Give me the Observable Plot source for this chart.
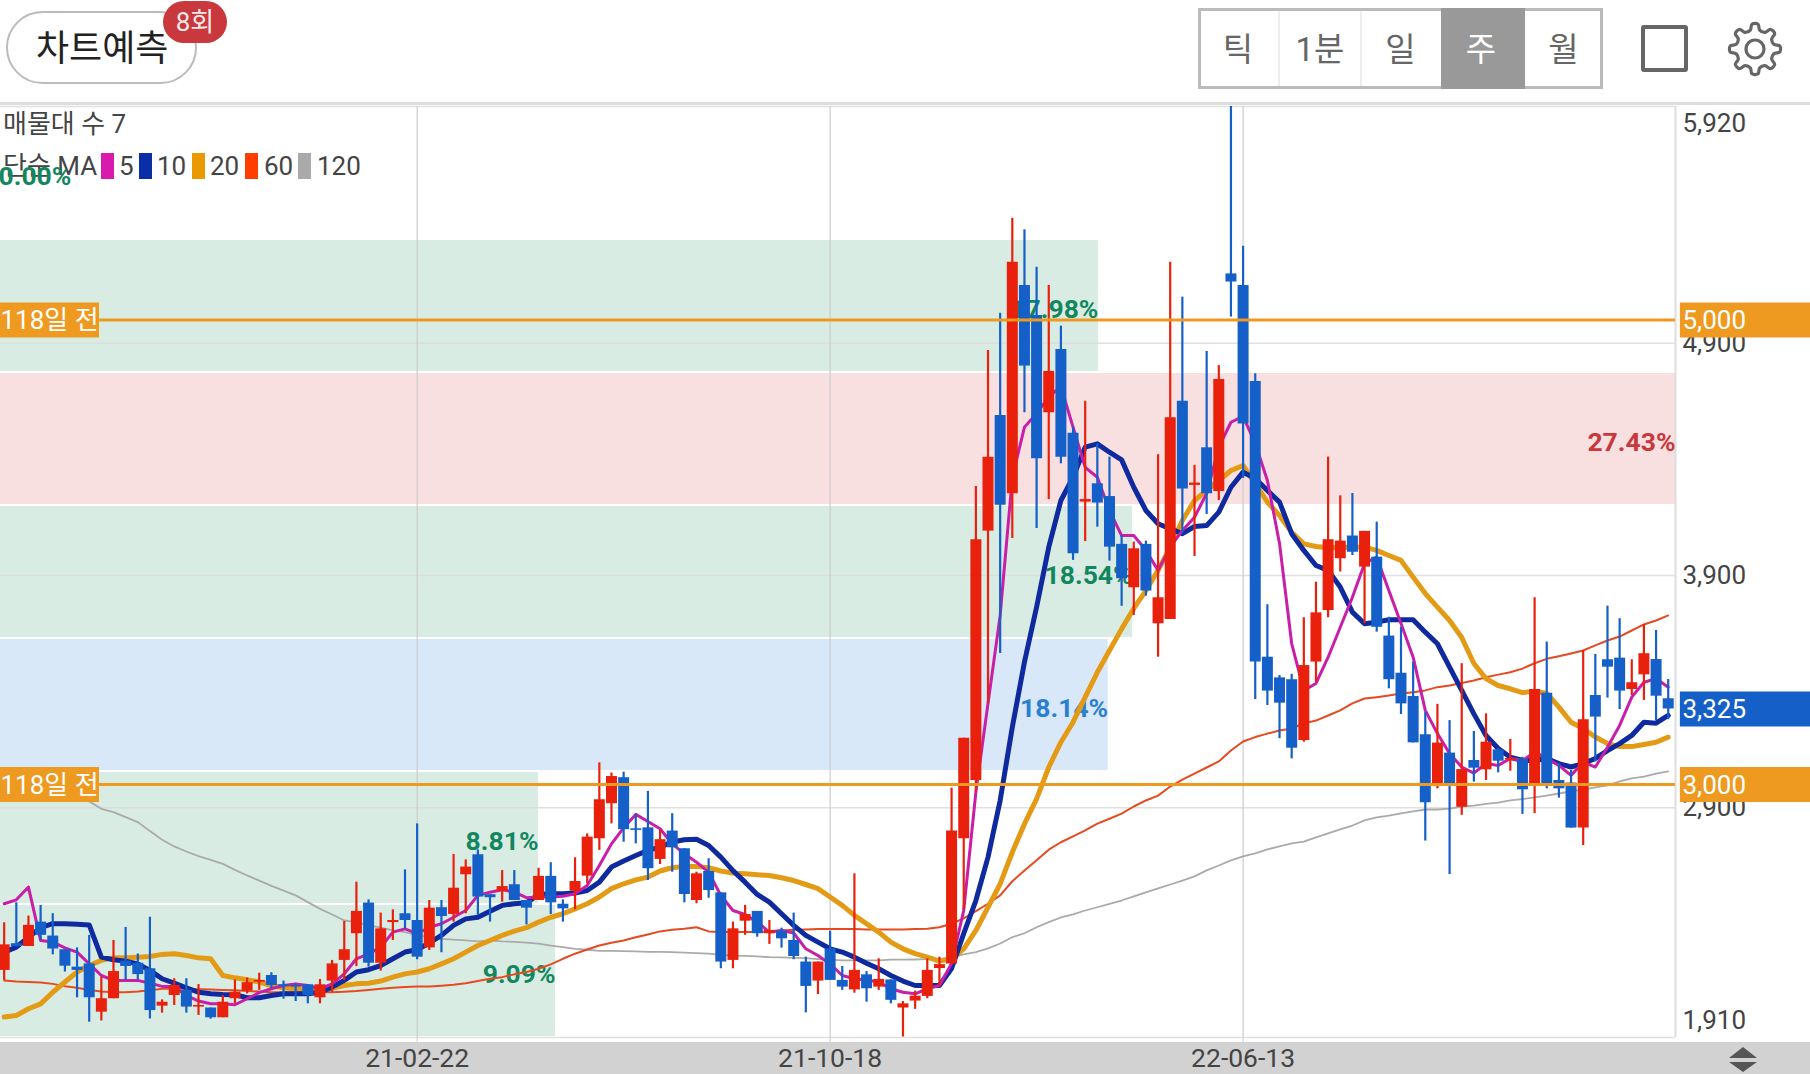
<!DOCTYPE html>
<html lang="ko">
<head>
<meta charset="utf-8">
<script src="https://cdn.jsdelivr.net/npm/d3@7"></script>
<script src="https://cdn.jsdelivr.net/npm/@observablehq/plot@0.6"></script>
<style>
html,body{margin:0;padding:0;background:#fff;overflow:hidden;width:1810px;height:1074px;font-family:Roboto,"Noto Sans CJK KR",sans-serif}
#page{position:relative;width:1810px;height:1074px;overflow:hidden}
.abs{position:absolute}
#hdr{position:relative;height:106px}
#chart{position:relative;z-index:2;line-height:0}
#chart svg{background:transparent;display:block}
.seg{position:absolute;top:8px;height:81px;line-height:83px;text-align:center;font-size:33px;color:#666}
.leg{position:absolute;top:149px;height:34px;line-height:34px;font-size:26px;color:#444}
.sw{position:absolute;top:153px;width:13px;height:26px}
</style>
</head>
<body>
<div id="page">
  <div class="abs" style="left:0;top:1042px;width:1810px;height:32px;background:#d2d2d2"></div>
  <svg class="abs" style="left:1725px;top:1045px;z-index:3" width="36" height="29">
    <path d="M18 2 L32 13 L4 13 Z M4 17 L32 17 L18 27 Z" fill="#555"/>
  </svg>
  <div id="hdr">
    <div class="abs" style="left:6px;top:11px;width:187px;height:69px;border:2.5px solid #bbb;border-radius:37px"></div>
    <div class="abs" style="left:36px;top:24px;font-size:36px;line-height:50px;color:#222">차트예측</div>
    <div class="abs" style="left:163px;top:1px;width:64px;height:42px;border-radius:21px;background:#c8383c;color:#fbe9e9;font-size:26px;line-height:43px;text-align:center">8회</div>
    <div class="abs" style="left:1198px;top:8px;width:399px;height:75px;border:3px solid #bbb"></div>
    <div class="abs" style="left:1278px;top:11px;width:2px;height:75px;background:#eee"></div>
    <div class="abs" style="left:1360px;top:11px;width:2px;height:75px;background:#eee"></div>
    <div class="abs" style="left:1441px;top:8px;width:84px;height:81px;background:#999"></div>
    <div class="seg" style="left:1198px;width:80px">틱</div>
    <div class="seg" style="left:1280px;width:80px">1분</div>
    <div class="seg" style="left:1361px;width:79px">일</div>
    <div class="seg" style="left:1439px;width:84px;color:#fff">주</div>
    <div class="seg" style="left:1525px;width:77px">월</div>
    <div class="abs" style="left:1641px;top:25px;width:39px;height:39px;border:4px solid #666;border-radius:3px"></div>
    <svg id="gear" class="abs" style="left:1723px;top:17px" width="64" height="64"></svg>
    <div class="abs" style="left:0;top:102px;width:1810px;height:3px;background:#ddd"></div>
  </div>
  <div class="abs" style="left:3px;top:107px;font-size:26px;line-height:34px;color:#444">매물대 수 7</div>
  <div class="leg" style="left:3px">단순 MA</div>
  <div class="sw" style="left:101px;background:#d81bad"></div><div class="leg" style="left:119px">5</div>
  <div class="sw" style="left:139px;background:#0a2ea8"></div><div class="leg" style="left:157px">10</div>
  <div class="sw" style="left:192px;background:#ea9a00"></div><div class="leg" style="left:210px">20</div>
  <div class="sw" style="left:245px;background:#ff3d00"></div><div class="leg" style="left:264px">60</div>
  <div class="sw" style="left:298px;background:#aaaaaa"></div><div class="leg" style="left:317px">120</div>
  <div id="chart"></div>
</div>
<script>
// weekly candles, newest on the right
const open = [2199,2314,2302,2407,2347,2288,2213,2227,2019,2077,
2239,2230,2206,2045,2091,2113,2041,2037,1995,2077,
2110,2148,2177,2137,2134,2137,2081,2153,2242,2357,
2489,2230,2405,2443,2414,2296,2469,2440,2611,2697,
2525,2540,2568,2500,2500,2604,2484,2540,2605,2766,
2917,3029,2809,2813,2677,2799,2723,2500,2625,2533,
2242,2411,2453,2357,2368,2328,2235,2153,2292,2156,
2115,2180,2127,2158,2037,2067,2087,2207,2227,2766,
3017,4091,4589,4252,5149,5020,4601,4873,4513,4216,
4295,4240,4034,3847,4034,3692,3710,4650,4288,4450,
4262,5199,5149,4736,3548,3459,3451,3189,3527,3749,
3972,4070,3936,3979,3639,3479,3379,3214,2991,3135,
2902,3103,3063,3149,3105,3107,2996,3393,3017,3006,
2812,3383,3537,3544,3409,3472,3538,3369];
const close = [2309,2302,2393,2350,2291,2217,2199,2081,2077,2194,
2216,2181,2026,2062,2134,2041,2048,1995,2062,2105,
2146,2156,2134,2130,2127,2091,2137,2227,2288,2453,
2230,2378,2414,2414,2256,2467,2431,2553,2644,2515,
2512,2560,2500,2467,2604,2490,2464,2582,2773,2934,
3034,2805,2802,2637,2762,2727,2526,2615,2543,2235,
2378,2440,2357,2371,2335,2259,2130,2235,2156,2127,
2199,2120,2160,2070,2055,2088,2199,2224,2799,3199,
4054,4409,4202,5249,4802,4403,4779,4409,3994,4227,
4212,4022,3886,4015,3833,3804,4579,4273,4298,4252,
4744,5164,4553,3527,3402,3350,3156,3512,3739,4054,
4048,4000,4090,3677,3451,3347,3179,2921,3178,3003,
3064,3070,3182,3100,3112,2977,3409,3003,2981,2812,
3279,3290,3505,3402,3438,3563,3380,3325];
const high = [2404,2490,2433,2479,2443,2288,2296,2350,2170,2328,
2384,2270,2428,2072,2163,2163,2138,2037,2091,2158,
2166,2187,2189,2153,2141,2137,2160,2242,2410,2579,
2503,2446,2460,2632,2830,2500,2500,2698,2675,2718,
2525,2629,2629,2500,2639,2663,2503,2684,2787,3093,
3049,3053,2871,2970,2802,2874,2723,2622,2680,2533,
2407,2479,2453,2414,2381,2446,2256,2235,2368,2216,
2615,2194,2249,2158,2065,2110,2249,2256,2984,3199,
4283,4869,5030,5439,5389,5228,5149,4974,4539,4650,
4467,4410,4072,4044,4048,4420,5249,5099,4374,4865,
4804,5920,5318,4769,3774,3469,3474,3718,3871,4410,
4243,4253,4090,4130,3720,3677,3527,3311,3345,3275,
3520,3228,3304,3155,3194,3117,3804,3613,3089,3060,
3577,3560,3768,3714,3537,3689,3663,3452];
const low = [2156,2300,2302,2328,2266,2192,2081,1976,1981,2077,
2156,2158,1990,2015,2048,2015,2005,1989,1995,2055,
2098,2113,2120,2075,2065,2055,2055,2105,2156,2216,
2213,2196,2328,2378,2245,2285,2275,2407,2443,2436,
2407,2493,2500,2395,2500,2440,2407,2460,2572,2716,
2830,2751,2744,2586,2655,2622,2490,2486,2510,2206,
2206,2350,2342,2311,2295,2245,2016,2095,2156,2113,
2101,2062,2113,2055,1912,2031,2077,2130,2227,2457,
2967,3349,3564,4059,4601,4102,4227,4381,3965,4046,
4108,3962,3767,3728,3811,3548,3710,4080,3982,4163,
4223,5013,4318,3366,3340,3197,3110,3182,3441,3718,
3915,3986,3692,3656,3412,3301,3179,2756,2981,2612,
2867,3010,3017,3050,3057,2871,2874,2981,2941,2812,
2737,3097,3372,3322,3383,3362,3275,3279];
const ma5 = [2486,2503,2558,2328,2321,2296,2278,2227,2177,2156,
2156,2156,2144,2130,2130,2091,2067,2055,2055,2051,
2077,2103,2120,2134,2141,2134,2120,2141,2184,2249,
2270,2299,2364,2378,2357,2385,2400,2428,2457,2522,
2536,2546,2536,2512,2515,2515,2518,2529,2565,2651,
2744,2813,2871,2840,2809,2744,2701,2665,2622,2522,
2457,2440,2407,2364,2371,2360,2292,2263,2227,2177,
2163,2158,2149,2120,2105,2098,2120,2134,2229,2457,
2967,3349,3728,4323,4539,4598,4668,4714,4539,4366,
4323,4180,4072,4072,4008,3922,4022,4094,4151,4253,
4453,4560,4585,4469,4309,4038,3607,3405,3435,3548,
3677,3806,3952,3979,3835,3693,3548,3319,3219,3133,
3075,3049,3090,3082,3112,3103,3139,3112,3082,3039,
3096,3075,3160,3254,3376,3440,3456,3419];
const ma10 = [2278,2299,2342,2383,2400,2400,2398,2395,2256,2245,
2239,2227,2199,2163,2144,2124,2105,2098,2095,2094,
2081,2081,2091,2098,2098,2098,2105,2127,2156,2192,
2202,2220,2249,2278,2288,2317,2350,2393,2421,2428,
2454,2479,2486,2490,2526,2529,2529,2532,2543,2579,
2644,2670,2694,2716,2730,2752,2762,2764,2737,2687,
2629,2579,2526,2493,2443,2393,2350,2321,2292,2278,
2256,2230,2206,2177,2153,2134,2134,2134,2207,2358,
2500,2687,2931,3247,3527,3764,4022,4223,4323,4453,
4467,4431,4398,4280,4180,4123,4101,4080,4111,4115,
4173,4280,4345,4318,4266,4216,4080,4008,3943,3922,
3850,3742,3692,3699,3709,3709,3709,3656,3606,3505,
3405,3304,3211,3155,3117,3103,3103,3112,3090,3075,
3090,3112,3146,3176,3211,3268,3264,3297];
const ma20 = [1998,2005,2034,2055,2105,2149,2192,2220,2242,2253,
2253,2256,2259,2268,2271,2263,2253,2249,2177,2167,
2159,2149,2134,2124,2120,2120,2115,2123,2134,2141,
2144,2153,2170,2184,2192,2206,2227,2249,2278,2306,
2328,2350,2368,2383,2407,2428,2443,2464,2486,2515,
2551,2572,2589,2601,2627,2641,2647,2647,2641,2627,
2618,2615,2611,2608,2598,2586,2569,2551,2515,2479,
2436,2400,2364,2321,2292,2271,2256,2239,2249,2292,
2371,2471,2572,2708,2830,2938,3074,3182,3268,3376,
3483,3577,3670,3758,3835,3922,4022,4137,4223,4266,
4309,4352,4374,4296,4216,4158,4086,4036,4025,4019,
4021,4022,4022,4008,3986,3965,3893,3822,3764,3706,
3633,3521,3456,3426,3412,3395,3402,3392,3333,3268,
3241,3204,3176,3163,3163,3172,3182,3204];
const ma60 = [2156,2151,2149,2147,2141,2131,2124,2115,2108,2105,
2105,2108,2113,2120,2120,2120,2118,2117,2115,2113,
2110,2108,2105,2105,2105,2105,2105,2105,2107,2110,
2115,2120,2124,2127,2130,2130,2133,2137,2144,2153,
2163,2170,2182,2192,2206,2225,2249,2271,2289,2306,
2318,2328,2342,2354,2367,2374,2378,2385,2367,2364,
2364,2364,2364,2367,2371,2374,2375,2377,2377,2377,
2377,2375,2375,2375,2375,2377,2378,2385,2400,2423,
2454,2486,2522,2583,2629,2673,2719,2751,2776,2802,
2831,2852,2874,2905,2931,2952,2991,3021,3047,3073,
3099,3146,3185,3204,3219,3232,3241,3263,3275,3297,
3319,3349,3370,3376,3383,3392,3397,3405,3419,3426,
3437,3448,3462,3473,3483,3499,3522,3541,3552,3564,
3577,3599,3620,3637,3663,3689,3706,3728];
const ma120Start = 6;
const ma120 = [2938,2927,2895,2881,2859,2838,2799,2762,2733,2711,
2691,2675,2658,2632,2608,2586,2563,2543,2522,2493,
2464,2440,2414,2407,2393,2383,2371,2364,2350,2342,
2335,2332,2328,2324,2328,2324,2322,2319,2314,2306,
2299,2292,2288,2283,2283,2282,2281,2279,2279,2278,
2276,2273,2271,2266,2263,2262,2259,2256,2255,2253,
2252,2248,2245,2242,2242,2242,2242,2245,2245,2246,
2248,2248,2255,2268,2278,2294,2315,2342,2359,2385,
2407,2427,2440,2457,2471,2486,2500,2518,2535,2552,
2569,2586,2604,2630,2651,2673,2690,2703,2720,2733,
2746,2754,2772,2789,2806,2823,2845,2858,2866,2875,
2884,2892,2892,2896,2905,2909,2916,2922,2931,2937,
2944,2952,2961,2970,2978,2987,2996,3013,3026,3034,
3047,3056];

const dateLabels = ["21-02-22","21-10-18","22-06-13"];
const dateIndex = [34,68,102];
const yTickValues = [4900,3900,2900];
const yEdgeHigh = 5920, yEdgeLow = 1910;
const levelTags = [5000,3000];
const lastClose = 3325;
const levelName = "118일 전";
const zoneEdges = [5920,5347.1,4774.3,4201.4,3628.6,3055.7,2482.9,1910];
const zonePct = [0.00,17.98,27.43,18.54,18.14,8.81,9.09];
const zoneKind = ["g","g","r","g","b","g","g"];

const COL = {red:"#e8200c",blue:"#1560c8",orange:"#ee9a20",ma5:"#c81ea8",ma10:"#0e2a9e",ma20:"#e39a14",ma60:"#e64a20",ma120:"#aaaaaa"};
const zoneFill = {g:"#d9ece4",r:"#f8dfe0",b:"#d9e8f8"};
const zoneText = {g:"#12875f",r:"#c8383c",b:"#2a7fd0"};

const xMin = -0.3023, xMax = 137.6, xEdge = 148.8, tagFrom = 138.0, leftTagTo = 7.85;
const maxPct = d3.max(zonePct);
const pctX = p => xMin + p / maxPct * (xMax - xMin);

const candles = open.map((o,i)=>({i,o,c:close[i],h:high[i],l:low[i],up:close[i]>o}));
const series = a => a.map((v,i)=>({i,v}));
const ma120s = ma120.map((v,k)=>({i:k+ma120Start,v}));
const zones = zonePct.map((p,k)=>({p,k:zoneKind[k],y1:zoneEdges[k],y2:zoneEdges[k+1],mid:(zoneEdges[k]+zoneEdges[k+1])/2,x2:pctX(p),label:p.toFixed(2)+"%"}));
const fmt = d3.format(",");
const FS = 26;
const tickFont = {fontSize:FS,fontFamily:'Roboto,"Noto Sans CJK KR",sans-serif'};
const pctFont = {fontSize:26.5,fontWeight:700,fontFamily:tickFont.fontFamily};

const plot = Plot.plot({
  width:1810,height:968,marginLeft:0,marginRight:135,marginTop:0,marginBottom:37,
  style:{background:"transparent",overflow:"visible"},
  x:{type:"linear",domain:[xMin,xMax],axis:null},
  y:{domain:[yEdgeLow,yEdgeHigh],axis:null},
  marks:[
    // supply-zone bars
    Plot.rect(zones,{x1:xMin,x2:"x2",y1:"y1",y2:"y2",fill:d=>zoneFill[d.k],insetTop:1,insetBottom:1}),
    // grid & frame
    Plot.ruleY([...yTickValues,yEdgeHigh,yEdgeLow],{x1:xMin,x2:xMax,stroke:"#ddd",strokeWidth:1.5,opacity:0.9}),
    Plot.axisX({tickSize:6,ticks:dateIndex,tickFormat:d=>dateLabels[dateIndex.indexOf(d)],stroke:"#ccc",tickPadding:5,lineAnchor:"top",fontSize:26.5,fontFamily:tickFont.fontFamily,fill:"#444",anchor:"bottom"}),
    Plot.ruleX(dateIndex,{y1:yEdgeLow,y2:yEdgeHigh,stroke:"#ccc",strokeWidth:1.2}),
    Plot.ruleX([xMax],{stroke:"#ddd",strokeWidth:2}),
    // zone percentages
    Plot.text(zones.filter(d=>d.p>0),{x:"x2",y:"mid",text:"label",textAnchor:"end",dy:4,fill:d=>zoneText[d.k],...pctFont}),
    Plot.text(zones.filter(d=>d.p===0),{x:xMin,y:"mid",text:"label",textAnchor:"start",dx:-2,dy:4,fill:d=>zoneText[d.k],...pctFont}),
    // moving averages
    Plot.line(ma120s,{x:"i",y:"v",stroke:COL.ma120,strokeWidth:1.8}),
    Plot.line(series(ma60),{x:"i",y:"v",stroke:COL.ma60,strokeWidth:2}),
    Plot.line(series(ma20),{x:"i",y:"v",stroke:COL.ma20,strokeWidth:5,strokeLinejoin:"round"}),
    Plot.line(series(ma10),{x:"i",y:"v",stroke:COL.ma10,strokeWidth:5,strokeLinejoin:"round"}),
    Plot.line(series(ma5),{x:"i",y:"v",stroke:COL.ma5,strokeWidth:3,strokeLinejoin:"round"}),
    // candles
    Plot.ruleX(candles,{x:"i",y1:"l",y2:"h",stroke:d=>d.up?COL.red:COL.blue,strokeWidth:2.2}),
    Plot.ruleX(candles,{x:"i",y1:d=>Math.min(d.o,d.c),y2:d=>Math.max(d.o,d.c),stroke:d=>d.up?COL.red:COL.blue,strokeWidth:11}),
    // y labels
    Plot.text(yTickValues,{x:xMax,y:d=>d,text:d=>fmt(d),textAnchor:"start",dx:7,fill:"#444",...tickFont}),
    Plot.text([yEdgeHigh],{x:xMax,y:d=>d,text:d=>fmt(d),textAnchor:"start",dx:7,dy:17,fill:"#444",...tickFont}),
    Plot.text([yEdgeLow],{x:xMax,y:d=>d,text:d=>fmt(d),textAnchor:"start",dx:7,dy:-17,fill:"#444",...tickFont}),
    // level lines and tags
    Plot.ruleY(levelTags,{x1:xMin,x2:xMax,stroke:COL.orange,strokeWidth:3}),
    Plot.ruleY(levelTags,{x1:xMin,x2:leftTagTo,stroke:COL.orange,strokeWidth:35}),
    Plot.ruleY(levelTags,{x1:tagFrom,x2:xEdge,stroke:COL.orange,strokeWidth:35}),
    Plot.ruleY([lastClose],{x1:tagFrom,x2:xEdge,stroke:COL.blue,strokeWidth:35}),
    Plot.text(levelTags,{x:xMin,y:d=>d,text:()=>levelName,textAnchor:"start",dy:1,fill:"#fff",...tickFont}),
    Plot.text([...levelTags,lastClose],{x:xMax,y:d=>d,text:d=>fmt(d),textAnchor:"start",dx:7,dy:1,fill:"#fff",...tickFont})
  ]
});
document.getElementById("chart").appendChild(plot);

// settings gear icon
(function(){
  const g=d3.select("#gear"),cx=32,cy=32,n=8,pts=[];
  for(let k=0;k<n;k++){
    const a=k/n*2*Math.PI,w=Math.PI/n;
    [[19.5,-1],[25,-.5],[25,.5],[19.5,1]].forEach(([r,s])=>{
      const t=a+s*w*0.62;pts.push([cx+r*Math.sin(t),cy-r*Math.cos(t)]);
    });
  }
  g.append("path").attr("d",d3.line().curve(d3.curveCatmullRomClosed.alpha(0.5))(pts)).attr("fill","none").attr("stroke","#666").attr("stroke-width",3.2);
  g.append("circle").attr("cx",cx).attr("cy",cy).attr("r",9).attr("fill","none").attr("stroke","#666").attr("stroke-width",3.2);
})();
</script>
</body>
</html>
